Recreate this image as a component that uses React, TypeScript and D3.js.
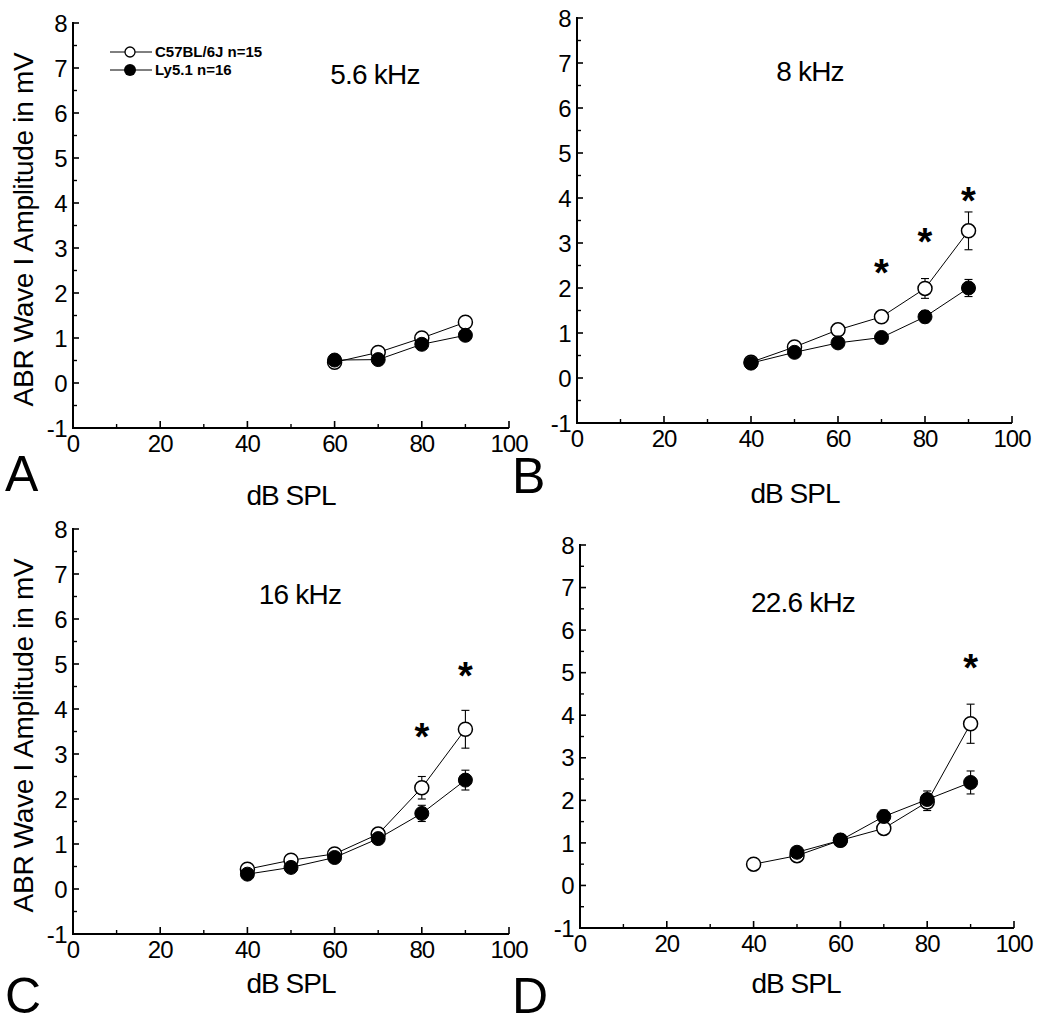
import React from "react";
import * as d3 from "d3";

// ---- data ----
const yTicks = [-1, 0, 1, 2, 3, 4, 5, 6, 7, 8];
const xTicks = [0, 20, 40, 60, 80, 100];
const seriesNames = ["C57BL/6J n=15", "Ly5.1 n=16"];
const panelTitles = ["5.6 kHz", "8 kHz", "16 kHz", "22.6 kHz"];
const panelLetters = ["A", "B", "C", "D"];

// Panel A: 5.6 kHz
const dbA = [60, 70, 80, 90];
const c57A = [0.46, 0.68, 1.0, 1.35];
const c57ErrA = [0.06, 0.06, 0.07, 0.1];
const lyA = [0.51, 0.52, 0.86, 1.06];
const lyErrA = [0.05, 0.05, 0.06, 0.07];

// Panel B: 8 kHz
const dbB = [40, 50, 60, 70, 80, 90];
const c57B = [0.35, 0.69, 1.07, 1.36, 1.99, 3.27];
const c57ErrB = [0.05, 0.06, 0.08, 0.08, 0.22, 0.42];
const lyB = [0.33, 0.57, 0.78, 0.9, 1.36, 2.0];
const lyErrB = [0.04, 0.05, 0.06, 0.07, 0.13, 0.19];
const starsB = [{ x: 70, y: 2.5 }, { x: 80, y: 3.2 }, { x: 90, y: 4.1 }];

// Panel C: 16 kHz
const dbC = [40, 50, 60, 70, 80, 90];
const c57C = [0.44, 0.64, 0.78, 1.22, 2.25, 3.55];
const c57ErrC = [0.06, 0.06, 0.07, 0.1, 0.25, 0.42];
const lyC = [0.33, 0.48, 0.7, 1.12, 1.68, 2.42];
const lyErrC = [0.05, 0.06, 0.06, 0.09, 0.18, 0.22];
const starsC = [{ x: 80, y: 3.55 }, { x: 90, y: 4.9 }];

// Panel D: 22.6 kHz
const dbDc57 = [40, 50, 60, 70, 80, 90];
const c57D = [0.5, 0.7, 1.06, 1.34, 1.96, 3.8];
const c57ErrD = [0.08, 0.07, 0.06, 0.1, 0.2, 0.46];
const dbDly = [50, 60, 70, 80, 90];
const lyD = [0.78, 1.06, 1.62, 2.02, 2.42];
const lyErrD = [0.08, 0.06, 0.15, 0.2, 0.27];
const starsD = [{ x: 90, y: 5.3 }];

// ---- layout ----
const FONT = "'Liberation Sans', Arial, Helvetica, sans-serif";

type Pt = { x: number; y: number; e: number };
const zipPts = (xs: number[], ys: number[], es: number[]): Pt[] =>
  xs.map((x, i) => ({ x, y: ys[i], e: es[i] }));

const panels = [
  {
    xr: [73, 509], yr: [428, 23],
    open: zipPts(dbA, c57A, c57ErrA), filled: zipPts(dbA, lyA, lyErrA), stars: [] as { x: number; y: number }[],
    title: { x: 375, y: 84 }, letter: { x: 5, y: 491 }, xlab: { x: 291, y: 505 }, ylab: true, legend: true,
  },
  {
    xr: [577, 1012], yr: [423, 18],
    open: zipPts(dbB, c57B, c57ErrB), filled: zipPts(dbB, lyB, lyErrB), stars: starsB,
    title: { x: 810, y: 81 }, letter: { x: 512, y: 493 }, xlab: { x: 795, y: 503 }, ylab: false, legend: false,
  },
  {
    xr: [73, 509], yr: [934, 529],
    open: zipPts(dbC, c57C, c57ErrC), filled: zipPts(dbC, lyC, lyErrC), stars: starsC,
    title: { x: 300, y: 604 }, letter: { x: 5, y: 1013 }, xlab: { x: 291, y: 993 }, ylab: true, legend: false,
  },
  {
    xr: [580, 1014], yr: [928, 545],
    open: zipPts(dbDc57, c57D, c57ErrD), filled: zipPts(dbDly, lyD, lyErrD), stars: starsD,
    title: { x: 803, y: 612 }, letter: { x: 512, y: 1013 }, xlab: { x: 796, y: 993 }, ylab: false, legend: false,
  },
];

function Panel({ p, idx }: { p: (typeof panels)[number]; idx: number }) {
  const x = d3.scaleLinear().domain([0, 100]).range(p.xr);
  const y = d3.scaleLinear().domain([-1, 8]).range(p.yr);
  const line = d3.line<Pt>().x((d) => x(d.x)).y((d) => y(d.y));
  const x0 = x(0);
  const yb = y(-1);
  const xMinor = d3.range(10, 100, 20);
  const yMinor = d3.range(-0.5, 8, 1);
  const r = 7;
  const cap = 4;
  const errBars = (pts: Pt[]) =>
    pts.map((d, i) => (
      <g key={i} stroke="#000" strokeWidth={1.1}>
        <line x1={x(d.x)} x2={x(d.x)} y1={y(d.y - d.e)} y2={y(d.y + d.e)} />
        <line x1={x(d.x) - cap} x2={x(d.x) + cap} y1={y(d.y + d.e)} y2={y(d.y + d.e)} />
        <line x1={x(d.x) - cap} x2={x(d.x) + cap} y1={y(d.y - d.e)} y2={y(d.y - d.e)} />
      </g>
    ));
  return (
    <g>
      {/* axes */}
      <line x1={x0} x2={x0} y1={y(8) - 1} y2={yb + 1} stroke="#000" strokeWidth={2} />
      <line x1={x0 - 1} x2={x(100)} y1={yb} y2={yb} stroke="#000" strokeWidth={2} />
      {yTicks.map((t) => (
        <g key={"yt" + t}>
          <line x1={x0} x2={x0 + 6} y1={y(t)} y2={y(t)} stroke="#000" strokeWidth={1.6} />
          <text x={x0 - 6} y={y(t)} dy="0.36em" textAnchor="end" fontSize={24} fontFamily={FONT} letterSpacing={-0.5}>
            {t}
          </text>
        </g>
      ))}
      {yMinor.map((t) => (
        <line key={"ym" + t} x1={x0} x2={x0 + 4} y1={y(t)} y2={y(t)} stroke="#000" strokeWidth={1.4} />
      ))}
      {xTicks.map((t) => (
        <g key={"xt" + t}>
          <line x1={x(t)} x2={x(t)} y1={yb} y2={yb - 7} stroke="#000" strokeWidth={1.6} />
          <text x={x(t)} y={yb + 24} textAnchor="middle" fontSize={24} fontFamily={FONT} letterSpacing={-1}>
            {t}
          </text>
        </g>
      ))}
      {xMinor.map((t) => (
        <line key={"xm" + t} x1={x(t)} x2={x(t)} y1={yb} y2={yb - 4} stroke="#000" strokeWidth={1.4} />
      ))}
      <text x={p.xlab.x} y={p.xlab.y} textAnchor="middle" fontSize={28} fontFamily={FONT} letterSpacing={-1}>
        dB SPL
      </text>
      <text x={p.letter.x} y={p.letter.y} fontSize={50} fontFamily={FONT}>
        {panelLetters[idx]}
      </text>
      {p.ylab && (
        <text
          transform={`translate(33,${(y(8) + yb) / 2 + 4}) rotate(-90)`}
          textAnchor="middle"
          fontSize={28}
          fontFamily={FONT}
          letterSpacing={-0.3}
        >
          ABR Wave I Amplitude in mV
        </text>
      )}
      <text x={p.title.x} y={p.title.y} textAnchor="middle" fontSize={28} fontFamily={FONT} letterSpacing={-0.8}>
        {panelTitles[idx]}
      </text>
      {/* data */}
      <path d={line(p.open) || ""} fill="none" stroke="#000" strokeWidth={1} />
      <path d={line(p.filled) || ""} fill="none" stroke="#000" strokeWidth={1} />
      {errBars(p.open)}
      {errBars(p.filled)}
      {p.open.map((d, i) => (
        <circle key={"o" + i} cx={x(d.x)} cy={y(d.y)} r={r} fill="#fff" stroke="#000" strokeWidth={1.5} />
      ))}
      {p.filled.map((d, i) => (
        <circle key={"f" + i} cx={x(d.x)} cy={y(d.y)} r={r} fill="#000" stroke="#000" strokeWidth={1} />
      ))}
      {p.stars.map((s, i) => (
        <text
          key={"s" + i}
          x={x(s.x)}
          y={y(s.y)}
          dy="0.55em"
          textAnchor="middle"
          fontSize={38}
          fontWeight="bold"
          fontFamily={FONT}
        >
          *
        </text>
      ))}
      {p.legend && (
        <g fontFamily={FONT} fontSize={15} fontWeight="bold">
          <line x1={110} x2={152} y1={52} y2={52} stroke="#000" strokeWidth={1} />
          <circle cx={130} cy={52} r={5} fill="#fff" stroke="#000" strokeWidth={1.3} />
          <text x={155} y={52} dy="0.36em">{seriesNames[0]}</text>
          <line x1={110} x2={152} y1={70} y2={70} stroke="#000" strokeWidth={1} />
          <circle cx={130} cy={70} r={6} fill="#000" />
          <text x={155} y={70} dy="0.36em">{seriesNames[1]}</text>
        </g>
      )}
    </g>
  );
}

export default function App() {
  return (
    <svg width={1050} height={1027} style={{ display: "block", position: "absolute", left: 0, top: 0 }}>
      <rect width={1050} height={1027} fill="#fff" />
      {panels.map((p, i) => (
        <Panel key={i} p={p} idx={i} />
      ))}
    </svg>
  );
}
